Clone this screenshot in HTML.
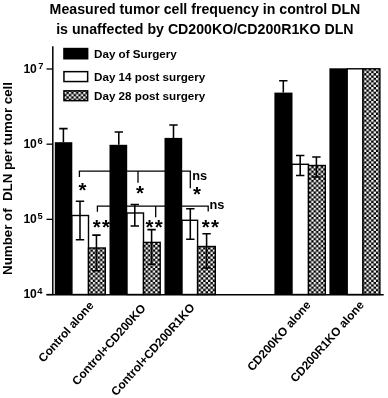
<!DOCTYPE html>
<html><head><meta charset="utf-8"><title>Chart</title>
<style>
html,body{margin:0;padding:0;background:#fff;}
svg{display:block;will-change:transform;font-family:"Liberation Sans",sans-serif;font-weight:bold;fill:#000;}
</style></head><body>
<svg width="388" height="398" viewBox="0 0 388 398">
<defs>
<pattern id="chk" x="371.2" y="291.24" width="4.8" height="4.64" patternUnits="userSpaceOnUse">
<rect width="4.8" height="4.64" fill="#000"/>
<rect x="0.05" y="0.05" width="2.3" height="2.22" fill="#fff"/>
<rect x="2.45" y="2.37" width="2.3" height="2.22" fill="#fff"/>
</pattern>
</defs>
<rect width="388" height="398" fill="#fff"/>

<text x="49.6" y="13.8" font-size="14.17">Measured tumor cell frequency in control DLN</text>
<text x="56.2" y="33.6" font-size="14.17">is unaffected by CD200KO/CD200R1KO DLN</text>
<text transform="translate(12.4,274.9) rotate(-90)" font-size="13.3" style="white-space:pre" xml:space="preserve">Number of  DLN per tumor cell</text>
<path d="M52.8 46.2V294.7M46.5 294.7H383.7" stroke="#000" stroke-width="1.5" fill="none"/>
<path d="M46.5 69.00H52.8" stroke="#000" stroke-width="1.3"/>
<text x="23.4" y="72.60" font-size="12.1">10<tspan font-size="9.3" dx="1.5" dy="-3.9">7</tspan></text>
<path d="M46.5 144.17H52.8" stroke="#000" stroke-width="1.3"/>
<text x="23.4" y="147.77" font-size="12.1">10<tspan font-size="9.3" dx="0.6" dy="-3.9">6</tspan></text>
<path d="M46.5 219.33H52.8" stroke="#000" stroke-width="1.3"/>
<text x="23.4" y="222.93" font-size="12.1">10<tspan font-size="9.3" dx="0.6" dy="-3.9">5</tspan></text>
<path d="M46.5 294.50H52.8" stroke="#000" stroke-width="1.3"/>
<text x="23.4" y="298.10" font-size="12.1">10<tspan font-size="9.3" dx="0.4" dy="-3.9">4</tspan></text>
<rect x="63.2" y="47.8" width="25.2" height="11.7" fill="#000"/>
<rect x="63.95" y="71.65" width="23.7" height="9.9" fill="#fff" stroke="#000" stroke-width="1.5"/>
<rect x="63.95" y="90.85" width="23.7" height="9.8" fill="url(#chk)" stroke="#000" stroke-width="1.5"/>
<text x="94" y="58.1" font-size="11.65">Day of Surgery</text>
<text x="94" y="80.6" font-size="11.65">Day 14 post surgery</text>
<text x="94" y="99.8" font-size="11.65">Day 28 post surgery</text>
<path d="M79.4 176.9V171.2H190.3V188.3M138 171.2V182.7" stroke="#000" stroke-width="1.3" fill="none"/>
<path d="M97.4 211.8V206.1H208.2V211.5M155.7 206.1V217.3" stroke="#000" stroke-width="1.3" fill="none"/>
<rect x="54.8" y="142.2" width="17.50" height="152.30" fill="#000"/>
<rect x="71.9" y="215.5" width="16.60" height="79.00" fill="#fff" stroke="#000" stroke-width="1.4"/>
<rect x="88.5" y="248.0" width="16.80" height="46.50" fill="url(#chk)" stroke="#000" stroke-width="1.4"/>
<rect x="109.5" y="144.8" width="17.70" height="149.70" fill="#000"/>
<rect x="127" y="213" width="16.50" height="81.50" fill="#fff" stroke="#000" stroke-width="1.4"/>
<rect x="143.5" y="242.4" width="16.70" height="52.10" fill="url(#chk)" stroke="#000" stroke-width="1.4"/>
<rect x="164.5" y="137.9" width="17.70" height="156.60" fill="#000"/>
<rect x="182" y="220.3" width="15.60" height="74.20" fill="#fff" stroke="#000" stroke-width="1.4"/>
<rect x="197.6" y="246.5" width="17.70" height="48.00" fill="url(#chk)" stroke="#000" stroke-width="1.4"/>
<rect x="274.4" y="92.6" width="18.10" height="201.90" fill="#000"/>
<rect x="292" y="164.3" width="16.50" height="130.20" fill="#fff" stroke="#000" stroke-width="1.4"/>
<rect x="308.5" y="165.5" width="16.80" height="129.00" fill="url(#chk)" stroke="#000" stroke-width="1.4"/>
<rect x="329.4" y="68.3" width="18.00" height="226.20" fill="#000"/>
<rect x="347.2" y="68.8" width="15.80" height="225.70" fill="#fff" stroke="#000" stroke-width="1.4"/>
<rect x="363" y="68.8" width="16.90" height="225.70" fill="url(#chk)" stroke="#000" stroke-width="1.4"/>
<path d="M63.4 128.6V142.2M59.199999999999996 128.6H67.6" stroke="#000" stroke-width="1.55" fill="none"/>
<path d="M80.0 201.3V239.7M75.8 201.3H84.2M75.8 239.7H84.2" stroke="#000" stroke-width="1.55" fill="none"/>
<path d="M96.45 235.1V270.8M92.25 235.1H100.65M92.25 270.8H100.65" stroke="#000" stroke-width="1.55" fill="none"/>
<path d="M118.8 131.9V144.8M114.6 131.9H123.0" stroke="#000" stroke-width="1.55" fill="none"/>
<path d="M134.8 204.5V226M130.60000000000002 204.5H139.0M130.60000000000002 226H139.0" stroke="#000" stroke-width="1.55" fill="none"/>
<path d="M151.6 229.6V264.3M147.4 229.6H155.79999999999998M147.4 264.3H155.79999999999998" stroke="#000" stroke-width="1.55" fill="none"/>
<path d="M173.5 125V137.9M169.3 125H177.7" stroke="#000" stroke-width="1.55" fill="none"/>
<path d="M190.3 208.7V239.3M186.10000000000002 208.7H194.5M186.10000000000002 239.3H194.5" stroke="#000" stroke-width="1.55" fill="none"/>
<path d="M206.6 233.7V268M202.4 233.7H210.79999999999998M202.4 268H210.79999999999998" stroke="#000" stroke-width="1.55" fill="none"/>
<path d="M283.3 80.7V92.6M279.1 80.7H287.5" stroke="#000" stroke-width="1.55" fill="none"/>
<path d="M300.2 155.4V175.4M296.0 155.4H304.4M296.0 175.4H304.4" stroke="#000" stroke-width="1.55" fill="none"/>
<path d="M316.4 157V177M312.2 157H320.59999999999997M312.2 177H320.59999999999997" stroke="#000" stroke-width="1.55" fill="none"/>
<text x="78.52" y="197.20" font-size="20.4">*</text>
<text x="136.07" y="200.00" font-size="20.4">*</text>
<text x="193.12" y="201.20" font-size="20.4">*</text>
<text x="92.72" y="233.90" font-size="20.4">*</text>
<text x="101.92" y="233.90" font-size="20.4">*</text>
<text x="145.62" y="233.90" font-size="20.4">*</text>
<text x="154.82" y="233.90" font-size="20.4">*</text>
<text x="201.72" y="233.90" font-size="20.4">*</text>
<text x="210.92" y="233.90" font-size="20.4">*</text>
<text x="192.2" y="180" font-size="12.8">ns</text>
<text x="209.4" y="208.8" font-size="12.8">ns</text>
<text transform="translate(94.3,305.95) rotate(-48.3)" font-size="11.85" text-anchor="end">Control alone</text>
<text transform="translate(146.3,308.5) rotate(-48.3)" font-size="11.85" text-anchor="end">Control+CD200KO</text>
<text transform="translate(195.3,307.9) rotate(-48.3)" font-size="11.85" text-anchor="end">Control+CD200R1KO</text>
<text transform="translate(311.5,305.45) rotate(-48.3)" font-size="11.85" text-anchor="end">CD200KO alone</text>
<text transform="translate(364.7,305.45) rotate(-48.3)" font-size="11.85" text-anchor="end">CD200R1KO alone</text>
</svg></body></html>
